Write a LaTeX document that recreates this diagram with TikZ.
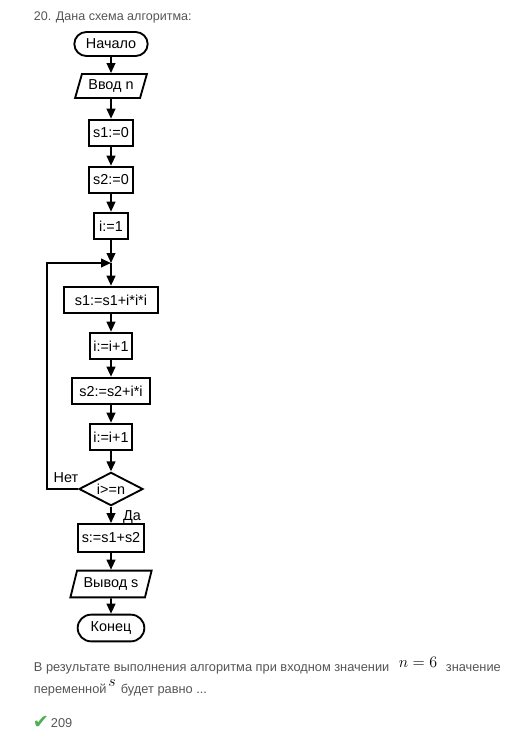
\documentclass[tikz,border=0pt]{standalone}
\usepackage{fontspec}
\setmainfont{Liberation Sans}
\newfontfamily\symfont{DejaVu Sans}
\usepackage{xcolor}
\usetikzlibrary{arrows.meta, shapes.geometric, shapes.misc}
\definecolor{textgray}{HTML}{555555}
\definecolor{okgreen}{HTML}{4CAF50}

\begin{document}
\begin{tikzpicture}[x=0.75pt, y=-0.75pt, >={Triangle[width=6.5pt, length=7.5pt]}, line width=1.4pt,
    block/.style={draw, rectangle, minimum height=20pt, inner sep=1pt, font=\fontsize{10.8}{12}\selectfont},
    term/.style={block, rounded rectangle},
    io/.style={block, trapezium, trapezium left angle=70, trapezium right angle=110, trapezium stretches=true},
    cond/.style={block, diamond, aspect=2, minimum width=48pt, minimum height=25pt},
    note/.style={font=\fontsize{9.6}{11}\selectfont, text=textgray, anchor=base west, inner sep=0pt}]
    \useasboundingbox (0,0) rectangle (526,744);
    % Title
    \node[note, font=\fontsize{9.4}{11}\selectfont] (title) at (33,20) {20. Дана схема алгоритма:};
    % Blocks
    \node[term, minimum width=57pt, minimum height=18pt] (start) at (111,44) {Начало};
    \node[io, minimum width=54pt, minimum height=18pt] (input) at (111,86) {Ввод n};
    \node[block, minimum width=33pt] (s1init) at (111,133) {s1:=0};
    \node[block, minimum width=33pt] (s2init) at (111,180) {s2:=0};
    \node[block, minimum width=26pt] (iinit) at (111,226) {i:=1};
    \coordinate (merge) at (111,263);
    \coordinate (back) at (47,263);
    \node[block, minimum width=70pt] (adds1) at (111,300) {s1:=s1+i*i*i};
    \node[block, minimum width=32pt] (inc1) at (111,346) {i:=i+1};
    \node[block, minimum width=58pt] (adds2) at (111,391) {s2:=s2+i*i};
    \node[block, minimum width=32pt] (inc2) at (111,437) {i:=i+1};
    \node[cond] (check) at (111,489) {i>=n};
    \node[block, minimum width=50pt, minimum height=21pt] (sum) at (111,538) {s:=s1+s2};
    \node[io, minimum width=61pt, minimum height=20pt] (output) at (111,584) {Вывод s};
    \node[term, minimum width=52pt] (finish) at (111,628) {Конец};
    % Connectors
    \foreach \a/\b in {start/input, input/s1init, s1init/s2init, s2init/iinit,
        adds1/inc1, inc1/adds2, adds2/inc2, inc2/check, check/sum, sum/output, output/finish}
        \draw[->] (\a) -- (\b);
    \draw[->] (iinit) -- (merge);
    \draw[->] (merge) -- (adds1);
    \draw[->] (check.west) -| (back) -- (merge);
    \node[font=\fontsize{10.8}{12}\selectfont] (nolabel) at (66,478) {Нет};
    \node[font=\fontsize{10.8}{12}\selectfont] (yeslabel) at (132,517) {Да};
    % Question text
    \node[note] (line1a) at (33,671) {В результате выполнения алгоритма при входном значении};
    \node[anchor=base, inner sep=0pt, font=\fontsize{13}{15}\selectfont] (nval) at (418,667) {$n = 6$};
    \node[note] (line1b) at (445,671) {значение};
    \node[note] (line2a) at (33,693) {переменной};
    \node[anchor=base, inner sep=0pt, font=\fontsize{11.5}{13}\selectfont] (sval) at (112,686) {$s$};
    \node[note] (line2b) at (120,693) {будет равно ...};
    % Answer
    \node[note, text=okgreen, font=\symfont\fontsize{14.5}{16}\selectfont] (tick) at (32,728) {✔};
    \node[note] (answer) at (50,727) {209};
\end{tikzpicture}
\end{document}
